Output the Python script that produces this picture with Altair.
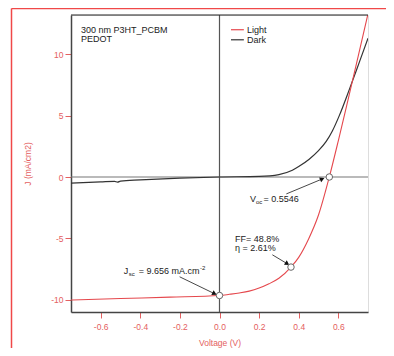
import altair as alt
import pandas as pd

# ---- data ----
light_v = [-0.75, -0.5, -0.25, 0.0, 0.05, 0.1, 0.15, 0.2, 0.25, 0.3, 0.361, 0.4, 0.45, 0.5, 0.5546, 0.6, 0.65, 0.7, 0.75]
light_j = [-10.02, -9.9, -9.79, -9.656, -9.56, -9.45, -9.3, -9.05, -8.7, -8.25, -7.34, -6.55, -5.05, -3.1, 0.0, 2.95, 6.35, 9.8, 13.3]

dark_v = [-0.75, -0.6, -0.53, -0.515, -0.5, -0.4, -0.2, 0.0, 0.2, 0.3, 0.368, 0.4, 0.453, 0.5, 0.539, 0.57, 0.605, 0.655, 0.705, 0.75]
dark_j = [-0.5, -0.4, -0.35, -0.42, -0.33, -0.24, -0.09, 0.0, 0.05, 0.2, 0.55, 0.85, 1.45, 2.15, 2.9, 3.75, 5.0, 7.1, 9.3, 11.3]

marker_v = [0.0, 0.361, 0.5546]
marker_j = [-9.656, -7.34, 0.0]

x_ticks = [-0.6, -0.4, -0.2, 0.0, 0.2, 0.4, 0.6]
y_ticks = [-10, -5, 0, 5, 10]

# annotation texts (anchor in data units)
ann_text = ["300 nm P3HT_PCBM", "PEDOT", "Light", "Dark",
            "V", "oc", "= 0.5546",
            "FF= 48.8%", "\u03b7 = 2.61%",
            "J", "sc", "= 9.656 mA.cm", "-2"]
ann_v = [-0.70, -0.70, 0.139, 0.139,
         0.1536, 0.184, 0.2225,
         0.0783, 0.0783,
         -0.4836, -0.458, -0.408, -0.099]
ann_j = [11.95, 11.22, 12.0, 11.18,
         -1.79, -2.05, -1.79,
         -5.04, -5.77,
         -7.64, -7.9, -7.64, -7.38]
ann_size = [9, 9, 9, 9,
            9, 6, 9,
            9, 9,
            9, 6, 9, 6]

# arrows: start -> end (data units), head angle in degrees
arrow_v = [0.3375, 0.267, -0.2015]
arrow_j = [-1.38, -6.34, -8.13]
arrow_v2 = [0.519, 0.3426, -0.025]
arrow_j2 = [-0.16, -7.07, -9.51]
arrow_angle = [337, 31, 26]

legend_names = ["Light", "Dark"]
legend_colors = ["#e5484d", "#333333"]
legend_v = [0.058, 0.058]
legend_v2 = [0.123, 0.123]
legend_j = [12.0, 11.18]

RED = "#e46060"
W, H = 297, 297

xs = alt.Scale(domain=[-0.75, 0.75], nice=False, zero=False)
ys = alt.Scale(domain=[-11.0, 13.2], nice=False, zero=False)

neg_fmt_x = "(datum.value < 0 ? '-' : '') + format(abs(datum.value), '.1f')"
neg_fmt_y = "(datum.value < 0 ? '-' : '') + format(abs(datum.value), 'd')"

light_df = pd.DataFrame({"v": light_v, "j": light_j})
dark_df = pd.DataFrame({"v": dark_v, "j": dark_j})
mk_df = pd.DataFrame({"v": marker_v, "j": marker_j})
ann_df = pd.DataFrame({"v": ann_v, "j": ann_j, "t": ann_text, "s": ann_size})
arr_df = pd.DataFrame({"v": arrow_v, "j": arrow_j, "v2": arrow_v2, "j2": arrow_j2, "a": arrow_angle})
leg_df = pd.DataFrame({"name": legend_names, "c": legend_colors, "v": legend_v, "v2": legend_v2, "j": legend_j})
zero_df = pd.DataFrame({"z": [0]})
dummy = pd.DataFrame({"a": [0]})

x_axis = alt.Axis(values=x_ticks, labelExpr=neg_fmt_x, title="Voltage (V)", grid=False,
                  labelColor=RED, tickColor=RED, domainColor="#444", domainWidth=1.5,
                  tickSize=6, labelPadding=4, labelFontSize=8.5, titleFontSize=8.5,
                  titleColor=RED, titleFontWeight="normal", titlePadding=8)
y_axis = alt.Axis(values=y_ticks, labelExpr=neg_fmt_y, title="J (mA/cm2)", grid=False,
                  labelColor=RED, tickColor=RED, domainColor="#444", domainWidth=1.5,
                  tickSize=6, labelPadding=2, labelFontSize=8.5, titleFontSize=8.5,
                  titleColor=RED, titleFontWeight="normal", titlePadding=18)

zero_v = alt.Chart(zero_df).mark_rule(color="#555", strokeWidth=1.2).encode(
    x=alt.X("z:Q", scale=xs, axis=x_axis))
zero_h = alt.Chart(zero_df).mark_rule(color="#777", strokeWidth=1.2).encode(
    y=alt.Y("z:Q", scale=ys, axis=y_axis))

light = alt.Chart(light_df).mark_line(color="#e5484d", strokeWidth=1.1, interpolate="monotone", clip=True).encode(
    x=alt.X("v:Q", scale=xs), y=alt.Y("j:Q", scale=ys))
dark = alt.Chart(dark_df).mark_line(color="#333333", strokeWidth=1.2, interpolate="monotone", clip=True).encode(
    x=alt.X("v:Q", scale=xs), y=alt.Y("j:Q", scale=ys))

arrows = alt.Chart(arr_df).mark_rule(color="#333", strokeWidth=0.9).encode(
    x=alt.X("v:Q", scale=xs), y=alt.Y("j:Q", scale=ys), x2="v2:Q", y2="j2:Q")
heads = alt.Chart(arr_df).mark_point(shape="triangle-right", filled=True, color="#111", opacity=1, size=28).encode(
    x=alt.X("v2:Q", scale=xs), y=alt.Y("j2:Q", scale=ys), angle=alt.Angle("a:Q", scale=None))

markers = alt.Chart(mk_df).mark_point(shape="circle", filled=True, fill="white", stroke="#666",
                                      strokeWidth=1, opacity=1, size=42).encode(
    x=alt.X("v:Q", scale=xs), y=alt.Y("j:Q", scale=ys))

texts = alt.Chart(ann_df).mark_text(align="left", baseline="middle", color="#222").encode(
    x=alt.X("v:Q", scale=xs), y=alt.Y("j:Q", scale=ys), text="t:N", size=alt.Size("s:Q", scale=None))

legend_lines = alt.Chart(leg_df).mark_rule(strokeWidth=1.2).encode(
    x=alt.X("v:Q", scale=xs), x2="v2:Q", y=alt.Y("j:Q", scale=ys), color=alt.Color("c:N", scale=None))

top_border = alt.Chart(dummy).mark_rule(color="#222", strokeWidth=1.2).encode(
    x=alt.value(0), x2=alt.value(W), y=alt.value(0))
frame_left = alt.Chart(dummy).mark_rule(color="#f04848", strokeWidth=1.5).encode(
    x=alt.value(-59.5), y=alt.value(-6.5), y2=alt.value(340))
frame_top = alt.Chart(dummy).mark_rule(color="#f04848", strokeWidth=1.5).encode(
    x=alt.value(-59.5), x2=alt.value(330), y=alt.value(-6.5))

chart = alt.layer(
    zero_v, zero_h, dark, light, arrows, heads, markers, texts, legend_lines, top_border, frame_left, frame_top
).properties(
    width=W, height=H,
    autosize=alt.AutoSizeParams(type="none"),
    padding={"left": 63, "top": 7, "right": 18, "bottom": 36},
).configure_view(stroke="#999", strokeWidth=1).configure(font="Liberation Sans")

chart.save("out.html", embed_options={"renderer": "svg", "actions": False})
